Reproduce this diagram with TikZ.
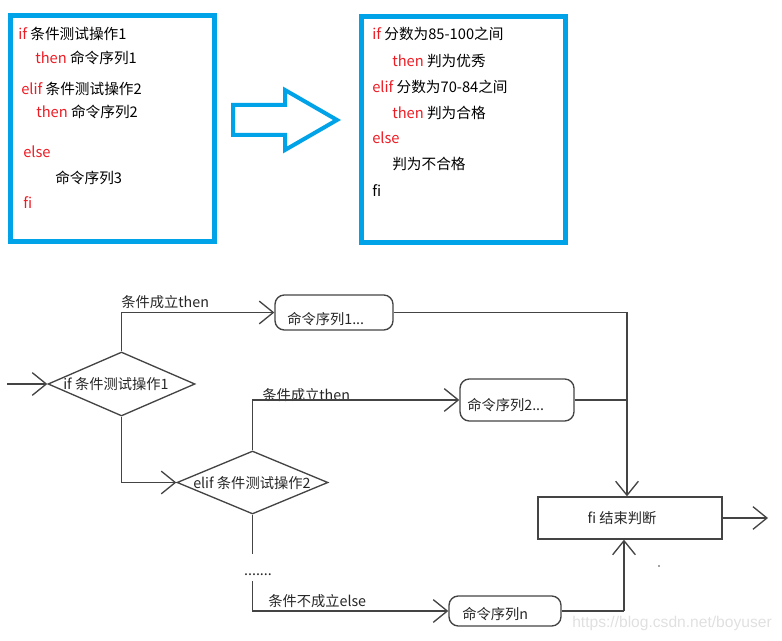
\documentclass[tikz,border=0pt]{standalone}
\usepackage{fontspec}
\setmainfont{Noto Sans CJK SC}
\newfontfamily\wmfont{Liberation Sans}
\usetikzlibrary{shapes.geometric,arrows.meta}
\definecolor{pblue}{HTML}{00A2E8}
\definecolor{pred}{HTML}{ED1C24}
\definecolor{ln}{HTML}{444444}
\begin{document}
\begin{tikzpicture}[x=0.75pt,y=-0.75pt,
  code/.style={anchor=west,inner sep=0,font=\fontsize{11}{13}\selectfont,text height=0.88em,text depth=0.12em},
  fl/.style={anchor=west,inner sep=0,font=\fontsize{10.7}{13}\selectfont,text height=0.88em,text depth=0.12em,text=black!85},
  frame/.style={draw=pblue,line width=3.75pt,inner sep=0},
  rbox/.style={draw=ln,line width=1pt,rounded corners=7pt,inner sep=0},
  sbox/.style={draw=ln,line width=1pt,inner sep=0},
  dia/.style={diamond,draw=ln,line width=1pt,inner sep=0},
  conn/.style={draw=ln,line width=1pt},
  arr/.style={conn,-{Straight Barb[length=10.5pt,width=17pt,line width=1pt]}}
]
\useasboundingbox (0,0) rectangle (782,641);

% ---------- top left frame ----------
\node[frame,minimum width=203.5*0.75pt,minimum height=225.7*0.75pt] (f1) at (112.25,128.65) {};
\node[code] (a1) at (18,34) {\textcolor{pred}{if} 条件测试操作1};
\node[code] (a2) at (35,58) {\textcolor{pred}{then} 命令序列1};
\node[code] (a3) at (21,89) {\textcolor{pred}{elif} 条件测试操作2};
\node[code] (a4) at (36,112) {\textcolor{pred}{then} 命令序列2};
\node[code] (a5) at (23,152) {\textcolor{pred}{else}};
\node[code] (a6) at (55,178) {命令序列3};
\node[code] (a7) at (23,203) {\textcolor{pred}{fi}};

% ---------- big arrow ----------
\draw[pblue,line width=3pt,line join=miter] (233,105) -- (285,105) -- (285,90) -- (337,120) -- (285,150) -- (285,135) -- (233,135) -- cycle;

% ---------- top right frame ----------
\node[frame,minimum width=204*0.75pt,minimum height=226.5*0.75pt] (f2) at (463.5,129.75) {};
\node[code] (b1) at (372,34) {\textcolor{pred}{if} 分数为85-100之间};
\node[code] (b2) at (392,61) {\textcolor{pred}{then} 判为优秀};
\node[code] (b3) at (372,87) {\textcolor{pred}{elif} 分数为70-84之间};
\node[code] (b4) at (392,113) {\textcolor{pred}{then} 判为合格};
\node[code] (b5) at (372,138) {\textcolor{pred}{else}};
\node[code] (b6) at (392,164) {判为不合格};
\node[code] (b7) at (372,191) {fi};

% ---------- flowchart nodes ----------
\node[dia,minimum width=147*0.75pt,minimum height=64*0.75pt] (d1) at (121.5,384) {};
\node[fl] (d1t) at (63,384) {if 条件测试操作1};
\node[dia,minimum width=151*0.75pt,minimum height=63*0.75pt] (d2) at (252.5,482.5) {};
\node[fl] (d2t) at (193,483) {elif 条件测试操作2};

\node[rbox,minimum width=118*0.75pt,minimum height=35*0.75pt] (c1) at (334,312.5) {};
\node[fl] (c1t) at (287,319) {命令序列1...};
\node[rbox,minimum width=114*0.75pt,minimum height=42*0.75pt] (c2) at (517,400) {};
\node[fl] (c2t) at (467,405) {命令序列2...};
\node[rbox,minimum width=112*0.75pt,minimum height=30*0.75pt] (cn) at (505,611) {};
\node[fl] (cnt) at (462,614) {命令序列n};
\node[sbox,minimum width=184*0.75pt,minimum height=42*0.75pt] (fi) at (630,518) {};
\node[fl,anchor=center] (fit) at (622,518) {fi 结束判断};

\node[fl] (l1) at (121,302) {条件成立then};
\node[fl] (l2) at (262,395) {条件成立then};
\node[fl] (l3) at (268,601) {条件不成立else};
\node[fl,anchor=center] (dots) at (258,570) {.......};

% ---------- coordinates ----------
\coordinate (in) at (7,384);
\coordinate (j1) at (627,312.5);
\coordinate (j3) at (624,611);
\coordinate (out) at (768,518);
\coordinate (e1) at (252.5,554);
\coordinate (e2) at (252.5,581);

% ---------- connectors ----------
\draw[arr] (in) -- (d1.west);
\draw[arr] (d1.north) |- (c1.west);
\draw[conn] (c1.east) -- (j1);
\draw[arr] (j1) -- (j1 |- fi.north);
\draw[arr] (d1.south) |- (d2.west);
\draw[arr] (d2.north) |- (c2.west);
\draw[conn] (c2.east) -- (c2.east -| j1);
\draw[conn] (d2.south) -- (e1);
\draw[arr] (e2) |- (cn.west);
\draw[conn] (cn.east) -- (j3);
\draw[arr] (j3) -- (j3 |- fi.south);
\draw[arr] (fi.east) -- (out);
\fill[ln] (659,566) circle (0.8);

% ---------- watermark ----------
\node[anchor=west,inner sep=0,font=\wmfont\fontsize{11.7}{13}\selectfont,text=black!12] (wm) at (572,623) {https://blog.csdn.net/boyuser};
\end{tikzpicture}
\end{document}
